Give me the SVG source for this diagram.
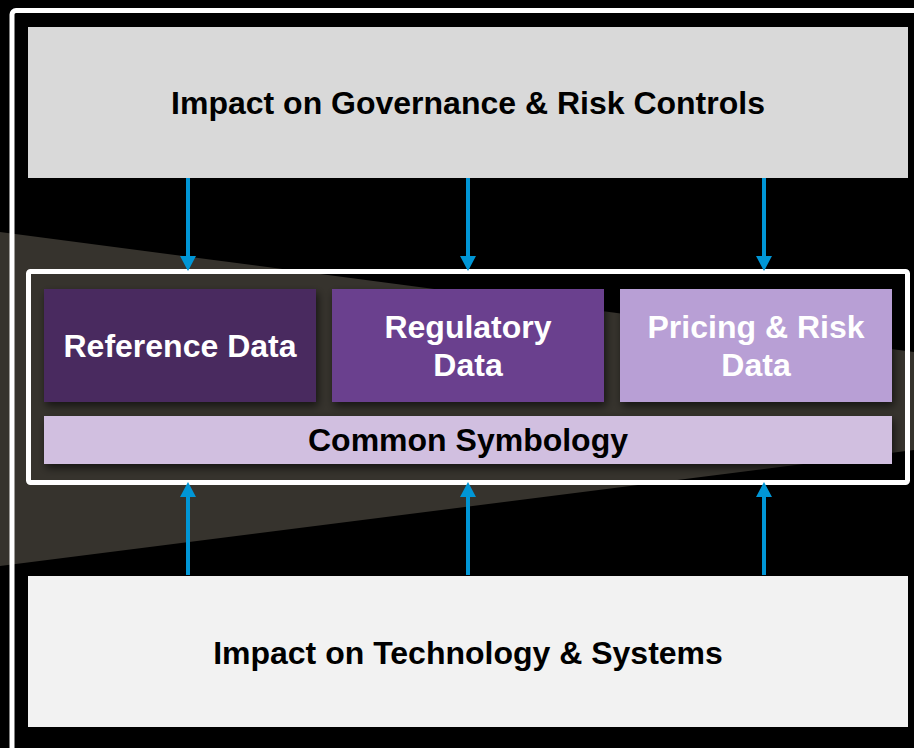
<svg xmlns="http://www.w3.org/2000/svg" width="914" height="748" viewBox="0 0 914 748">
  <style>
    .lbl { font-family: "Liberation Sans", Arial, sans-serif; font-weight: bold; font-size: 32px; text-anchor: middle; }
    .dark { fill: #000000; }
    .light { fill: #FFFFFF; }
    .conn { stroke: #0096D6; stroke-width: 4; fill: none; marker-end: url(#arrow); }
  </style>
  <defs>
    <marker id="arrow" viewBox="0 0 15 16" refX="5" refY="8" markerWidth="15" markerHeight="16" markerUnits="userSpaceOnUse" orient="auto">
      <path d="M0,0 L15,8 L0,16 z" fill="#0096D6"/>
    </marker>
    <filter id="shadow" x="-10%" y="-20%" width="120%" height="150%">
      <feDropShadow dx="2" dy="4" stdDeviation="4" flood-color="#000000" flood-opacity="0.6"/>
    </filter>
  </defs>

  <rect x="0" y="0" width="914" height="748" fill="#000000"/>
  <polygon points="0,232 914,352 914,450 0,566" fill="#36332D"/>
  <rect x="12" y="10.5" width="1000" height="800" rx="4" fill="none" stroke="#FFFFFF" stroke-width="5"/>

  <g id="governance">
    <rect x="28" y="27" width="880" height="151" fill="#D9D9D9"/>
    <text class="lbl dark" x="468" y="114">Impact on Governance &amp; Risk Controls</text>
  </g>

  <g id="technology">
    <rect x="28" y="576" width="880" height="151" fill="#F2F2F2"/>
    <text class="lbl dark" x="468" y="664">Impact on Technology &amp; Systems</text>
  </g>

  <g id="data-container">
    <rect x="28.5" y="271.5" width="879" height="211" rx="2" fill="none" stroke="#FFFFFF" stroke-width="5"/>
  </g>

  <g id="reference-data">
    <rect x="44" y="289" width="272" height="113" fill="#482C5E" filter="url(#shadow)"/>
    <text class="lbl light" x="180" y="357">Reference Data</text>
  </g>

  <g id="regulatory-data">
    <rect x="332" y="289" width="272" height="113" fill="#6A408E" filter="url(#shadow)"/>
    <text class="lbl light" x="468" y="338">Regulatory</text>
    <text class="lbl light" x="468" y="376">Data</text>
  </g>

  <g id="pricing-risk-data">
    <rect x="620" y="289" width="272" height="113" fill="#B89FD5" filter="url(#shadow)"/>
    <text class="lbl light" x="756" y="338">Pricing &amp; Risk</text>
    <text class="lbl light" x="756" y="376">Data</text>
  </g>

  <g id="common-symbology">
    <rect x="44" y="416" width="848" height="48" fill="#D1BFE0" filter="url(#shadow)"/>
    <text class="lbl dark" x="468" y="451">Common Symbology</text>
  </g>

  <g id="connectors">
    <line class="conn" x1="188" y1="178" x2="188" y2="261"/>
    <line class="conn" x1="468" y1="178" x2="468" y2="261"/>
    <line class="conn" x1="764" y1="178" x2="764" y2="261"/>
    <line class="conn" x1="188" y1="575" x2="188" y2="492"/>
    <line class="conn" x1="468" y1="575" x2="468" y2="492"/>
    <line class="conn" x1="764" y1="575" x2="764" y2="492"/>
  </g>
</svg>
